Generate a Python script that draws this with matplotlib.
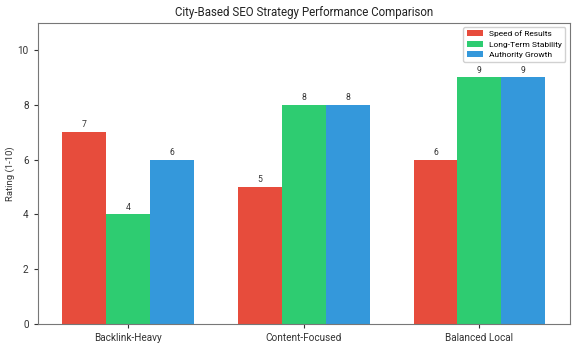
import numpy as np
import matplotlib.pyplot as plt

plt.rcParams['font.family'] = ['Roboto', 'DejaVu Sans']

categories = ['Backlink-Heavy', 'Content-Focused', 'Balanced Local']
series_names = ['Speed of Results', 'Long-Term Stability', 'Authority Growth']
speed = [7, 5, 6]
stability = [4, 8, 9]
authority = [6, 8, 9]
colors = ['#e74c3c', '#2ecc71', '#3498db']

fig, ax = plt.subplots(figsize=(5.8, 3.5), dpi=100)

x = np.arange(len(categories))
width = 0.25
for i, (vals, name) in enumerate(zip([speed, stability, authority], series_names)):
    bars = ax.bar(x + (i - 1) * width, vals, width, label=name, color=colors[i])
    ax.bar_label(bars, padding=2, fontsize=6.2, color='#333333')

ax.set_title('City-Based SEO Strategy Performance Comparison', fontsize=8.3, color='#222222', pad=5)
ax.set_ylabel('Rating (1-10)', fontsize=6.8, color='#333333')
ax.yaxis.set_label_coords(-0.043, 0.5)
ax.set_xticks(x)
ax.set_xticklabels(categories, fontsize=7.2)
ax.set_ylim(0, 11)
ax.set_yticks([0, 2, 4, 6, 8, 10])
ax.tick_params(axis='y', labelsize=7.2, colors='#333333', length=3)
ax.tick_params(axis='x', colors='#333333', length=3)
for s in ax.spines.values():
    s.set_color('#777777')
ax.legend(loc='upper right', fontsize=6, handlelength=1.9, labelspacing=0.45,
          borderpad=0.4, framealpha=0.9)

fig.subplots_adjust(left=0.065, right=0.982, top=0.935, bottom=0.075)
plt.savefig('out.png', dpi=100)
